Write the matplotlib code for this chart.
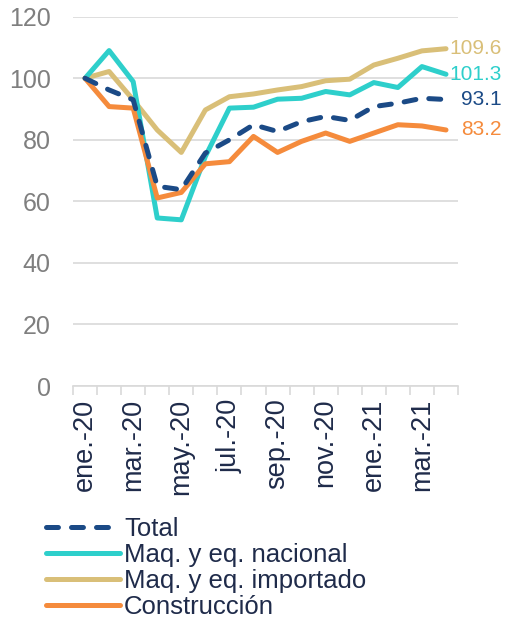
import matplotlib
matplotlib.use("Agg")
import matplotlib.pyplot as plt
import numpy as np

months = ["ene.-20", "feb.-20", "mar.-20", "abr.-20", "may.-20", "jun.-20", "jul.-20", "ago.-20",
          "sep.-20", "oct.-20", "nov.-20", "dic.-20", "ene.-21", "feb.-21", "mar.-21", "abr.-21"]
total = [100, 96.2, 93.0, 64.9, 63.8, 75.7, 80.0, 84.9, 82.7, 85.9, 87.6, 86.3, 90.8, 91.9, 93.5, 93.1]
nacional = [100, 109.0, 98.9, 54.6, 54.0, 74.6, 90.3, 90.6, 93.2, 93.5, 95.7, 94.6, 98.6, 97.0, 103.8, 101.3]
importado = [100, 102.2, 93.0, 83.2, 75.9, 89.7, 94.0, 94.9, 96.2, 97.3, 99.2, 99.7, 104.3, 106.5, 108.9, 109.6]
construccion = [100, 90.8, 90.3, 61.1, 62.9, 72.2, 72.9, 81.1, 75.9, 79.5, 82.2, 79.5, 82.2, 84.9, 84.5, 83.2]
series_names = ["Total", "Maq. y eq. nacional", "Maq. y eq. importado", "Construcción"]
end_labels = ["93.1", "101.3", "109.6", "83.2"]

plt.rcParams['font.family'] = ['Liberation Sans', 'DejaVu Sans']
plt.rcParams['lines.scale_dashes'] = False

C_NAVY = "#1B4A86"
C_CYAN = "#2ECFCB"
C_GOLD = "#D9BF78"
C_ORANGE = "#F58B3C"
C_TEXT = "#1F2B4A"
C_GRAY = "#7F7F7F"

fig = plt.figure(figsize=(5.06, 6.19), dpi=100)
ax = fig.add_axes([0.1443, 0.3764, 0.7609, 0.5966])

x = np.arange(len(months))
lw = 3.6
l1, = ax.plot(x, total, color=C_NAVY, lw=lw, dashes=(8.6, 9.4), dash_capstyle='round', zorder=5)
l2, = ax.plot(x, nacional, color=C_CYAN, lw=lw, solid_capstyle='round', zorder=3)
l3, = ax.plot(x, importado, color=C_GOLD, lw=lw, solid_capstyle='round', zorder=2)
l4, = ax.plot(x, construccion, color=C_ORANGE, lw=lw, solid_capstyle='round', zorder=4)

ax.set_xlim(-0.5, len(months) - 0.5)
ax.set_ylim(0, 120)
ax.set_yticks(np.arange(0, 121, 20))
ax.grid(axis='y', color='#D9D9D9', lw=1.2)
ax.set_axisbelow(True)
for s in ['top', 'right', 'left']:
    ax.spines[s].set_visible(False)
ax.spines['bottom'].set_color('#D9D9D9')
ax.spines['bottom'].set_linewidth(1.2)

ax.set_xticks(x[::2])
ax.set_xticklabels(months[::2], rotation=90, fontsize=19.5, color=C_TEXT)
ax.set_xticks(np.arange(-0.5, len(months), 1), minor=True)
ax.tick_params(axis='x', which='major', length=0, pad=9)
ax.tick_params(axis='x', which='minor', length=6.5, color='#D9D9D9', width=1.2)
ax.tick_params(axis='y', length=0, pad=16, labelsize=18, labelcolor=C_GRAY)

# end labels
vals = [total[-1], nacional[-1], importado[-1], construccion[-1]]
cols = [C_NAVY, C_CYAN, C_GOLD, C_ORANGE]
offs = [(10.8, 0), (2.2, 0), (2.2, 0), (10.8, 0)]
for v, lab, c, o in zip(vals, end_labels, cols, offs):
    ax.annotate(lab, xy=(x[-1], v), xytext=o, textcoords='offset points',
                ha='left', va='center', fontsize=15, color=c, annotation_clip=False)

leg = fig.legend([l1, l2, l3, l4], series_names, loc='upper left',
                 bbox_to_anchor=(0.09, 0.164), frameon=False, fontsize=18.5,
                 handlelength=2.9, handletextpad=0.15, labelspacing=0.07,
                 borderpad=0, borderaxespad=0)
for t in leg.get_texts():
    t.set_color(C_TEXT)

fig.savefig("out.png", dpi=100)
